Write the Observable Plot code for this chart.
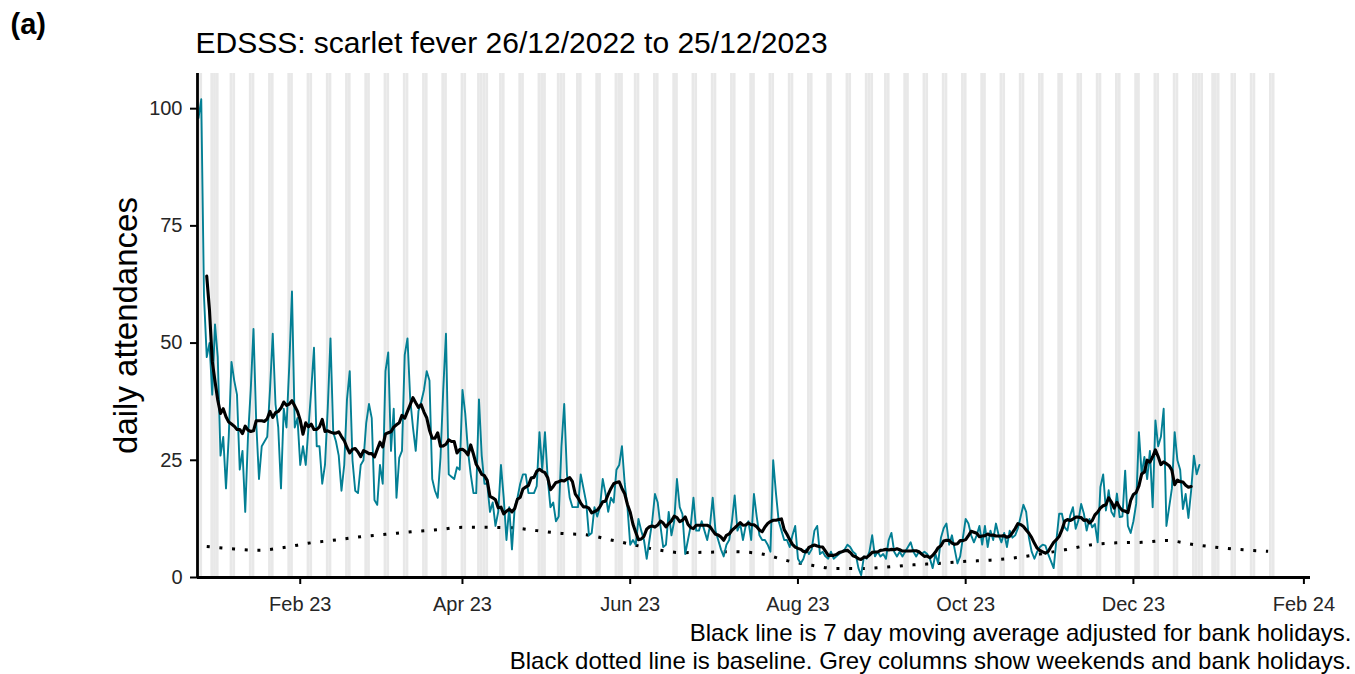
<!DOCTYPE html>
<html><head><meta charset="utf-8">
<script src="https://cdn.jsdelivr.net/npm/d3@7"></script>
<script src="https://cdn.jsdelivr.net/npm/@observablehq/plot@0.6"></script>
<style>
html,body{margin:0;padding:0;background:#fff;}
#chart{width:1355px;height:674px;overflow:hidden;}
</style></head><body><div id="chart"></div>
<script>
// ---- data ----
const startDate = "2022-12-26";
const attendances = [
  98, 102, 60, 47, 50, 39, 54,
  47, 26, 30, 19, 30, 46, 42,
  39, 23, 27, 14, 30, 40, 53,
  33, 21, 28, 29, 30, 40, 52,
  37, 32, 19, 36, 32, 45, 61,
  32, 34, 24, 28, 24, 32, 40,
  49, 28, 28, 20, 24, 36, 51,
  31, 29, 26, 18.5, 24, 38, 44,
  25, 18.5, 18, 24, 25, 33, 37,
  34, 16.5, 15.5, 24, 20, 44, 48,
  27, 36, 17, 25.5, 27, 47.5, 51,
  38, 32, 27, 35.5, 37.5, 40, 44,
  42, 21, 18.5, 17, 25.5, 40, 52,
  22, 21.5, 21, 23.5, 23, 40, 35,
  27, 22, 18, 18, 38, 26, 20,
  20, 14, 16, 11, 14, 24, 17,
  8, 15, 6, 15, 17, 20, 22,
  22, 18, 18, 18, 19.5, 31, 23,
  31, 21, 15, 16, 12, 13, 28,
  37, 22, 17, 15, 15, 15, 22,
  19, 16, 9, 9.5, 15, 13, 15,
  21, 18, 14, 17, 16, 23, 24,
  28, 20, 15, 7, 8, 7, 12.5,
  10, 8, 4, 8, 12, 17.8, 16,
  11, 6.5, 7, 14, 9, 12, 21,
  15, 13.5, 5, 8, 11, 17, 10,
  10, 12, 10, 8, 11, 17, 10,
  8, 6, 4.5, 7, 8, 12, 17.5,
  10, 11.5, 8, 11, 12, 8, 17.8,
  13, 9, 8, 8, 7, 5.5, 25,
  18, 12, 10, 8, 8, 6.5, 9,
  11, 4, 3, 4, 6, 5, 6,
  10, 11, 5, 5.5, 4.5, 4, 5.5,
  4, 4.5, 5, 5.5, 6, 7, 6.5,
  5.5, 5, 2, 0.5, 4.5, 4, 5.5,
  9, 4.5, 5.5, 4.5, 5, 4, 8,
  9.5, 5.5, 4.5, 5.5, 4.5, 5.5, 6.5,
  7.5, 5.5, 4.5, 5.5, 5, 5.5, 5,
  4, 2, 5, 3, 8.5, 10.5, 11.5,
  7, 9, 6, 3, 4.5, 8.5, 12.5,
  11.5, 9, 7.5, 9, 11, 7, 11,
  6.5, 10, 8, 11.5, 9, 7.5, 9.5,
  6.5, 10, 8.5, 9, 10.5, 13, 15.5,
  14, 8.5, 5.5, 4, 5.5, 6.5, 7,
  6.8, 5, 3.5, 2, 8, 13.6, 13.6,
  10.7, 10, 13.2, 15, 10.4, 12.2, 15.7,
  13.6, 10, 12.5, 10.7, 11.4, 7.5, 19.3,
  22, 14.3, 18.6, 14, 13, 17.9, 12.9,
  13, 22.8, 11, 9.5, 12, 15.7, 31,
  22, 25.7, 21, 27, 15, 33.5, 28,
  30, 36, 11, 15, 19, 31, 25,
  23, 14.6, 17.8, 12.7, 18.6, 26, 22,
  24
];
const baselineDates = [
  "2022-12-29","2023-01-08","2023-01-17","2023-01-26","2023-02-05","2023-02-14","2023-02-23",
  "2023-03-04","2023-03-14","2023-03-23","2023-04-01","2023-04-10","2023-04-19","2023-04-28",
  "2023-05-07","2023-05-16","2023-05-25","2023-06-02","2023-06-11","2023-06-20","2023-06-30",
  "2023-07-09","2023-07-19","2023-07-28","2023-08-06","2023-08-15","2023-08-24","2023-09-02",
  "2023-09-12","2023-09-21","2023-09-30","2023-10-10","2023-10-19","2023-10-28","2023-11-06",
  "2023-11-16","2023-11-25","2023-12-04","2023-12-13","2023-12-23","2024-01-01","2024-01-10",
  "2024-01-19"
];
const baselineValues = [
  6.6, 6.1, 5.8, 6.4, 7.4, 8.0, 8.7,
  9.2, 9.8, 10.2, 10.7, 10.7, 10.6, 10.0,
  9.4, 9.1, 8.0, 7.0, 5.9, 5.3, 5.4,
  5.5, 5.0, 3.6, 2.6, 1.9, 1.9, 2.2,
  2.7, 3.0, 3.4, 3.7, 4.2, 5.0, 5.9,
  7.0, 7.4, 7.5, 7.9, 7.0, 6.4, 5.9,
  5.6
];
const bankHolidays = ["2022-12-26","2022-12-27","2023-01-02","2023-04-07","2023-04-10","2023-05-01",
  "2023-05-08","2023-05-29","2023-08-28","2023-12-25","2023-12-26","2024-01-01"];
const greyEnd = "2024-01-21";
const xTickDates = ["2023-02-01","2023-04-01","2023-06-01","2023-08-01","2023-10-01","2023-12-01","2024-02-01"];
const yTicks = [0, 25, 50, 75, 100];
const panelLabel = "(a)";
const titleText = "EDSSS: scarlet fever 26/12/2022 to 25/12/2023";
const yLabel = "daily attendances";
const captionLines = [
  "Black line is 7 day moving average adjusted for bank holidays.",
  "Black dotted line is baseline. Grey columns show weekends and bank holidays."
];

// ---- build ----
const DAY = 864e5;
const t0 = new Date(startDate);
const daily = attendances.map((v, i) => ({date: new Date(+t0 + i * DAY), value: v}));
const baseline = baselineDates.map((d, i) => ({date: new Date(d), value: baselineValues[i]}));
const hol = new Set(bankHolidays);
const fmtISO = d3.utcFormat("%Y-%m-%d");
const greyDays = d3.utcDay.range(t0, new Date(+new Date(greyEnd) + DAY))
  .filter(d => d.getUTCDay() === 0 || d.getUTCDay() === 6 || hol.has(fmtISO(d)));
const xDomain = [new Date(+t0 - 0.36 * DAY), new Date(+t0 + 404.4 * DAY)];
const yMax = 107.5;

const chart = Plot.plot({
  width: 1355, height: 674,
  marginLeft: 197, marginRight: 45, marginTop: 73, marginBottom: 97,
  style: {fontFamily: "'Liberation Sans', Arial, Helvetica, sans-serif", fontSize: "20px", background: "#fff", color: "#000", overflow: "visible"},
  x: {type: "utc", domain: xDomain},
  y: {domain: [0, yMax]},
  marks: [
    Plot.rect(greyDays, {x1: d => new Date(+d - DAY / 2), x2: d => new Date(+d + DAY / 2), y1: 0, y2: yMax, fill: "#E8E8E8"}),
    Plot.line(baseline, {x: "date", y: "value", stroke: "#000", strokeWidth: 3, strokeDasharray: "3,9.7", strokeLinecap: "butt", curve: "monotone-x"}),
    Plot.line(daily, {x: "date", y: "value", stroke: "#037F94", strokeWidth: 1.9}),
    Plot.line(daily, Plot.windowY({k: 7, anchor: "middle", strict: true}, {x: "date", y: "value", stroke: "#000", strokeWidth: 3.1})),
    Plot.axisX({ticks: xTickDates.map(d => new Date(d)), tickFormat: d3.utcFormat("%b %y"), tickSize: 7, tickPadding: 12, strokeWidth: 2, fontSize: 20, fill: "#262626", label: null}),
    Plot.axisY({ticks: yTicks, tickSize: 7, tickPadding: 8, strokeWidth: 2, fontSize: 20, fill: "#262626", label: null}),
    Plot.ruleY([0], {stroke: "#000", strokeWidth: 2.8}),
    Plot.ruleX([xDomain[0]], {stroke: "#000", strokeWidth: 2.8}),
    Plot.text([yLabel], {frameAnchor: "left", text: d => d, rotate: -90, dx: -71, fontSize: 33, textAnchor: "middle", lineAnchor: "middle", fill: "#000"}),
    Plot.text([titleText], {frameAnchor: "top-left", text: d => d, dx: -2, dy: -21, fontSize: 30, textAnchor: "start", lineAnchor: "bottom", fill: "#000"}),
    Plot.text([panelLabel], {frameAnchor: "top-left", text: d => d, dx: -187, dy: -40, fontSize: 29, fontWeight: "bold", textAnchor: "start", lineAnchor: "bottom", fill: "#000"}),
    Plot.text([captionLines[0]], {frameAnchor: "bottom-right", text: d => d, dx: 41, dy: 63.5, fontSize: 24, textAnchor: "end", lineAnchor: "bottom", fill: "#000"}),
    Plot.text([captionLines[1]], {frameAnchor: "bottom-right", text: d => d, dx: 41, dy: 91.5, fontSize: 24, textAnchor: "end", lineAnchor: "bottom", fill: "#000"})
  ]
});
document.getElementById("chart").appendChild(chart);
</script>
</body></html>
